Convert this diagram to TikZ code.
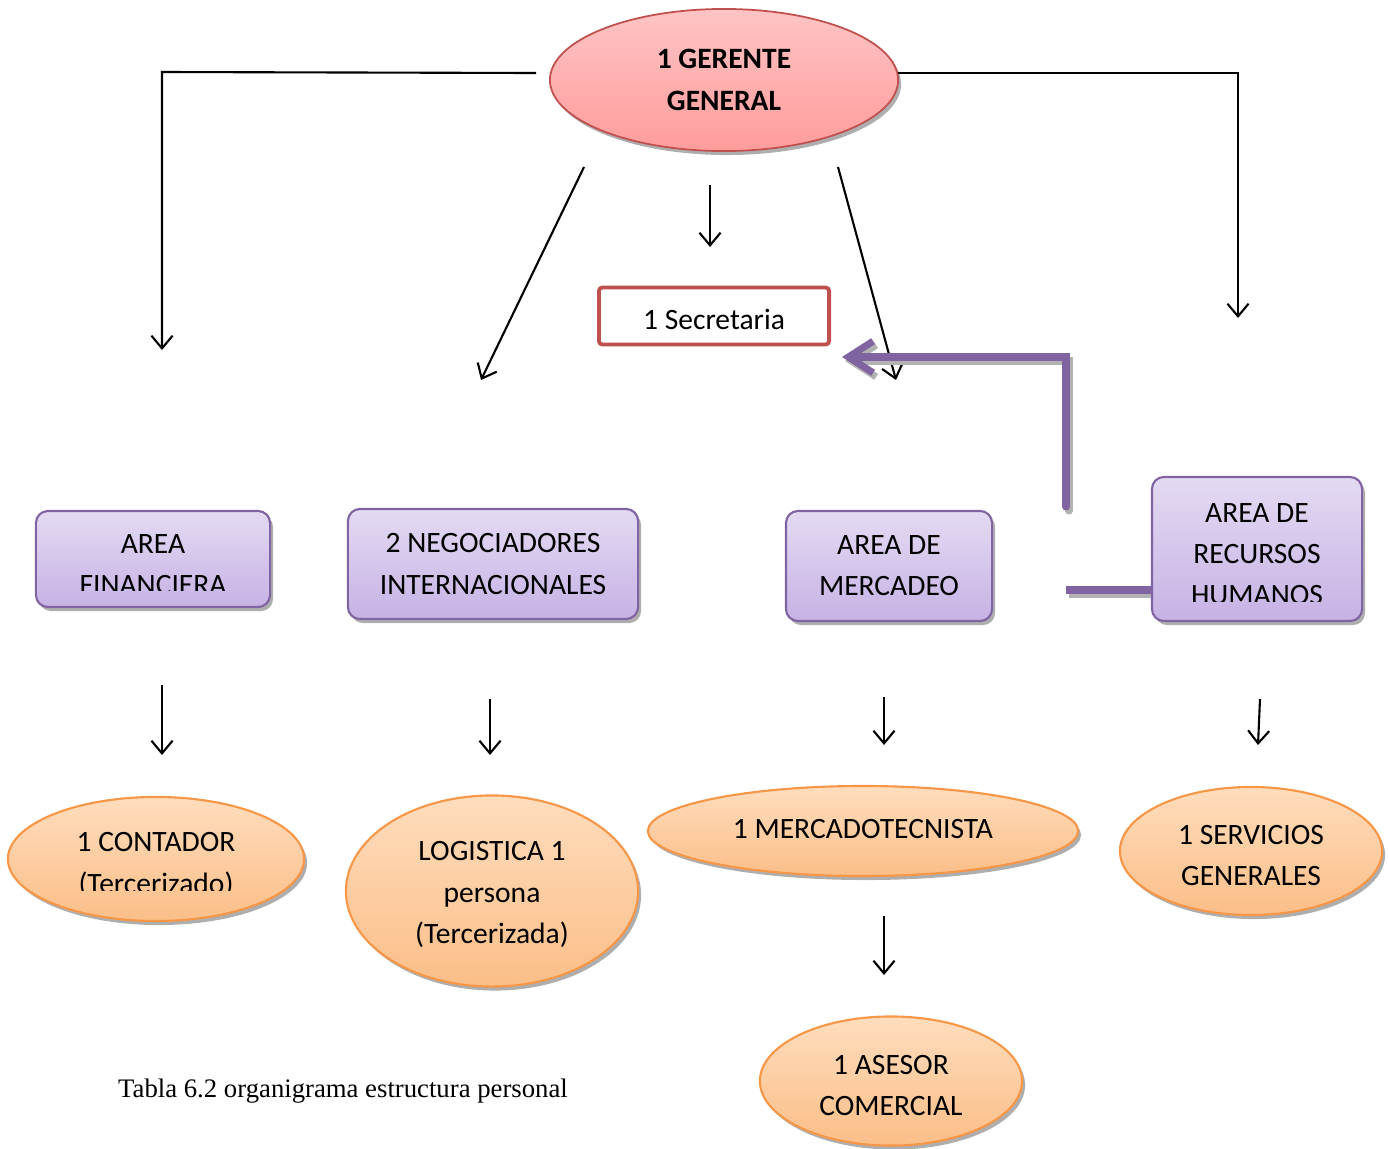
\documentclass[tikz,border=0pt]{standalone}
\usepackage{fontspec}
\setmainfont{Carlito}
\newfontfamily\capfont{Liberation Serif}
\usetikzlibrary{arrows.meta,shapes.geometric,shadows}

\definecolor{gertop}{HTML}{FFC4C4}
\definecolor{gerbot}{HTML}{FF9C9C}
\definecolor{gerline}{HTML}{C0504D}
\definecolor{liltop}{HTML}{E4DAF3}
\definecolor{lilbot}{HTML}{C6B2E4}
\definecolor{lilline}{HTML}{8064A2}
\definecolor{orgtop}{HTML}{FFDDBD}
\definecolor{orgbot}{HTML}{FBBE88}
\definecolor{orgline}{HTML}{F79646}

\tikzset{
  lbl/.style={font=\fontsize{8.4}{11.7}\selectfont, align=center, inner sep=0pt},
  sombra/.style={drop shadow={shadow xshift=0.03cm, shadow yshift=-0.04cm, fill=black!45, opacity=0.7}},
  jefe/.style={ellipse, sombra, draw=gerline, line width=0.5pt, top color=gertop, bottom color=gerbot,
    inner sep=0pt, lbl, font=\bfseries\fontsize{8.4}{11.9}\selectfont},
  area/.style={rectangle, rounded corners=0.12cm, sombra, draw=lilline, line width=0.6pt,
    top color=liltop, bottom color=lilbot, inner sep=0pt, lbl},
  cargo/.style={ellipse, sombra, draw=orgline, line width=0.6pt, top color=orgtop, bottom color=orgbot,
    inner sep=0pt, lbl},
  secre/.style={rectangle, rounded corners=1pt, draw=gerline, line width=1.1pt, fill=white, inner sep=0pt, lbl},
  flecha/.style={line width=0.6pt, -{Straight Barb[length=3.6pt,width=6pt]}},
  lila/.style={draw=lilline, line width=2pt},
  lilasombra/.style={draw=black!30, line width=2pt},
}

\begin{document}
\begin{tikzpicture}[x=0.01cm, y=-0.01cm]
  \useasboundingbox (0,0) rectangle (1388,1148);

  % jefatura
  \node[jefe, minimum width=3.48cm, minimum height=1.42cm] (gerente) at (724,80) {1 GERENTE\\GENERAL};
  \node[secre, minimum width=2.30cm, minimum height=0.57cm,
    label={[lbl, yshift=-0.035cm]center:1 Secretaria}] (secretaria) at (714,316) {};

  % areas
  \node[area, minimum width=2.34cm, minimum height=0.96cm] (financiera) at (153,559) {};
  \node[area, minimum width=2.90cm, minimum height=1.10cm] (negociadores) at (493,564) {2 NEGOCIADORES\\INTERNACIONALES};
  \node[area, minimum width=2.06cm, minimum height=1.10cm] (mercadeo) at (889,566) {AREA DE\\MERCADEO};
  \node[area, minimum width=2.10cm, minimum height=1.44cm] (rrhh) at (1257,549) {};

  % cargos
  \node[cargo, minimum width=2.96cm, minimum height=1.24cm] (contador) at (156,859) {};
  \node[cargo, minimum width=2.92cm, minimum height=1.91cm,
    label={[lbl, yshift=-0.035cm]center:{LOGISTICA 1\\persona\\(Tercerizada)}}] (logistica) at (492,891) {};
  \node[cargo, minimum width=4.30cm, minimum height=0.90cm,
    label={[lbl, yshift=0.02cm]center:1 MERCADOTECNISTA}] (mercadotec) at (863,831) {};
  \node[cargo, minimum width=2.62cm, minimum height=1.28cm,
    label={[lbl, yshift=-0.045cm]center:{1 SERVICIOS\\GENERALES}}] (servicios) at (1251,851) {};
  \node[cargo, minimum width=2.62cm, minimum height=1.29cm,
    label={[lbl, yshift=-0.045cm]center:{1 ASESOR\\COMERCIAL}}] (asesor) at (891,1081) {};

  % textos cortados
  \begin{scope}
    \clip (40,515) rectangle (266,590);
    \node[lbl] (txtfin) at (153,565) {AREA\\FINANCIERA};
  \end{scope}
  \begin{scope}
    \clip (1156,481) rectangle (1358,601);
    \node[lbl] (txtrrhh) at (1257,554) {AREA DE\\RECURSOS\\HUMANOS};
  \end{scope}
  \begin{scope}
    \clip (20,800) rectangle (300,890);
    \node[lbl] (txtcont) at (156,865) {1 CONTADOR\\(Tercerizado)};
  \end{scope}

  % flechas de gerencia
  \coordinate (gizq) at (536,73);
  \coordinate (codo1) at (162,72);
  \coordinate (fin1) at (162,350);
  \coordinate (gder) at (898,73);
  \coordinate (codo2) at (1238,73);
  \coordinate (fin2) at (1238,318);
  \draw[flecha] (gizq) -- (codo1) -- (fin1);
  \draw[flecha] (gder) -- (codo2) -- (fin2);

  \coordinate (n1) at (584,167);
  \coordinate (n2) at (481,380);
  \draw[flecha] (n1) -- (n2);
  \coordinate (s1) at (710,185);
  \coordinate (s2) at (710,247);
  \draw[flecha] (s1) -- (s2);
  \coordinate (m1) at (838,167);
  \coordinate (m2) at (896,380);
  \draw[flecha] (m1) -- (m2);

  % flechas de areas
  \coordinate (a1) at (162,685);
  \coordinate (a2) at (162,755);
  \draw[flecha] (a1) -- (a2);
  \coordinate (b1) at (490,699);
  \coordinate (b2) at (490,755);
  \draw[flecha] (b1) -- (b2);
  \coordinate (c1) at (884,697);
  \coordinate (c2) at (884,745);
  \draw[flecha] (c1) -- (c2);
  \coordinate (d1) at (1260,699);
  \coordinate (d2) at (1258,745);
  \draw[flecha] (d1) -- (d2);
  \coordinate (e1) at (884,916);
  \coordinate (e2) at (884,975);
  \draw[flecha] (e1) -- (e2);

  % flecha lila
  \coordinate (p1) at (1066,507);
  \coordinate (p2) at (1066,357);
  \coordinate (p3) at (842,357);
  \coordinate (q1) at (1066,590);
  \draw[lilasombra, line cap=round, -{Straight Barb[length=7pt,width=9pt]}]
    ([shift={(3,4)}]p1) -- ([shift={(3,4)}]p2) -- ([shift={(3,4)}]p3);
  \draw[lilasombra] ([shift={(3,4)}]q1) -- ([shift={(0,4)}]rrhh.west |- q1);
  \draw[lila, line cap=round, -{Straight Barb[length=7pt,width=9pt]}] (p1) -- (p2) -- (p3);
  \draw[lila] (q1) -- (rrhh.west |- q1);

  % leyenda
  \node[font=\capfont\fontsize{7.6}{9}\selectfont, inner sep=0pt] (leyenda) at (343,1091) {Tabla 6.2 organigrama estructura personal};
\end{tikzpicture}
\end{document}
